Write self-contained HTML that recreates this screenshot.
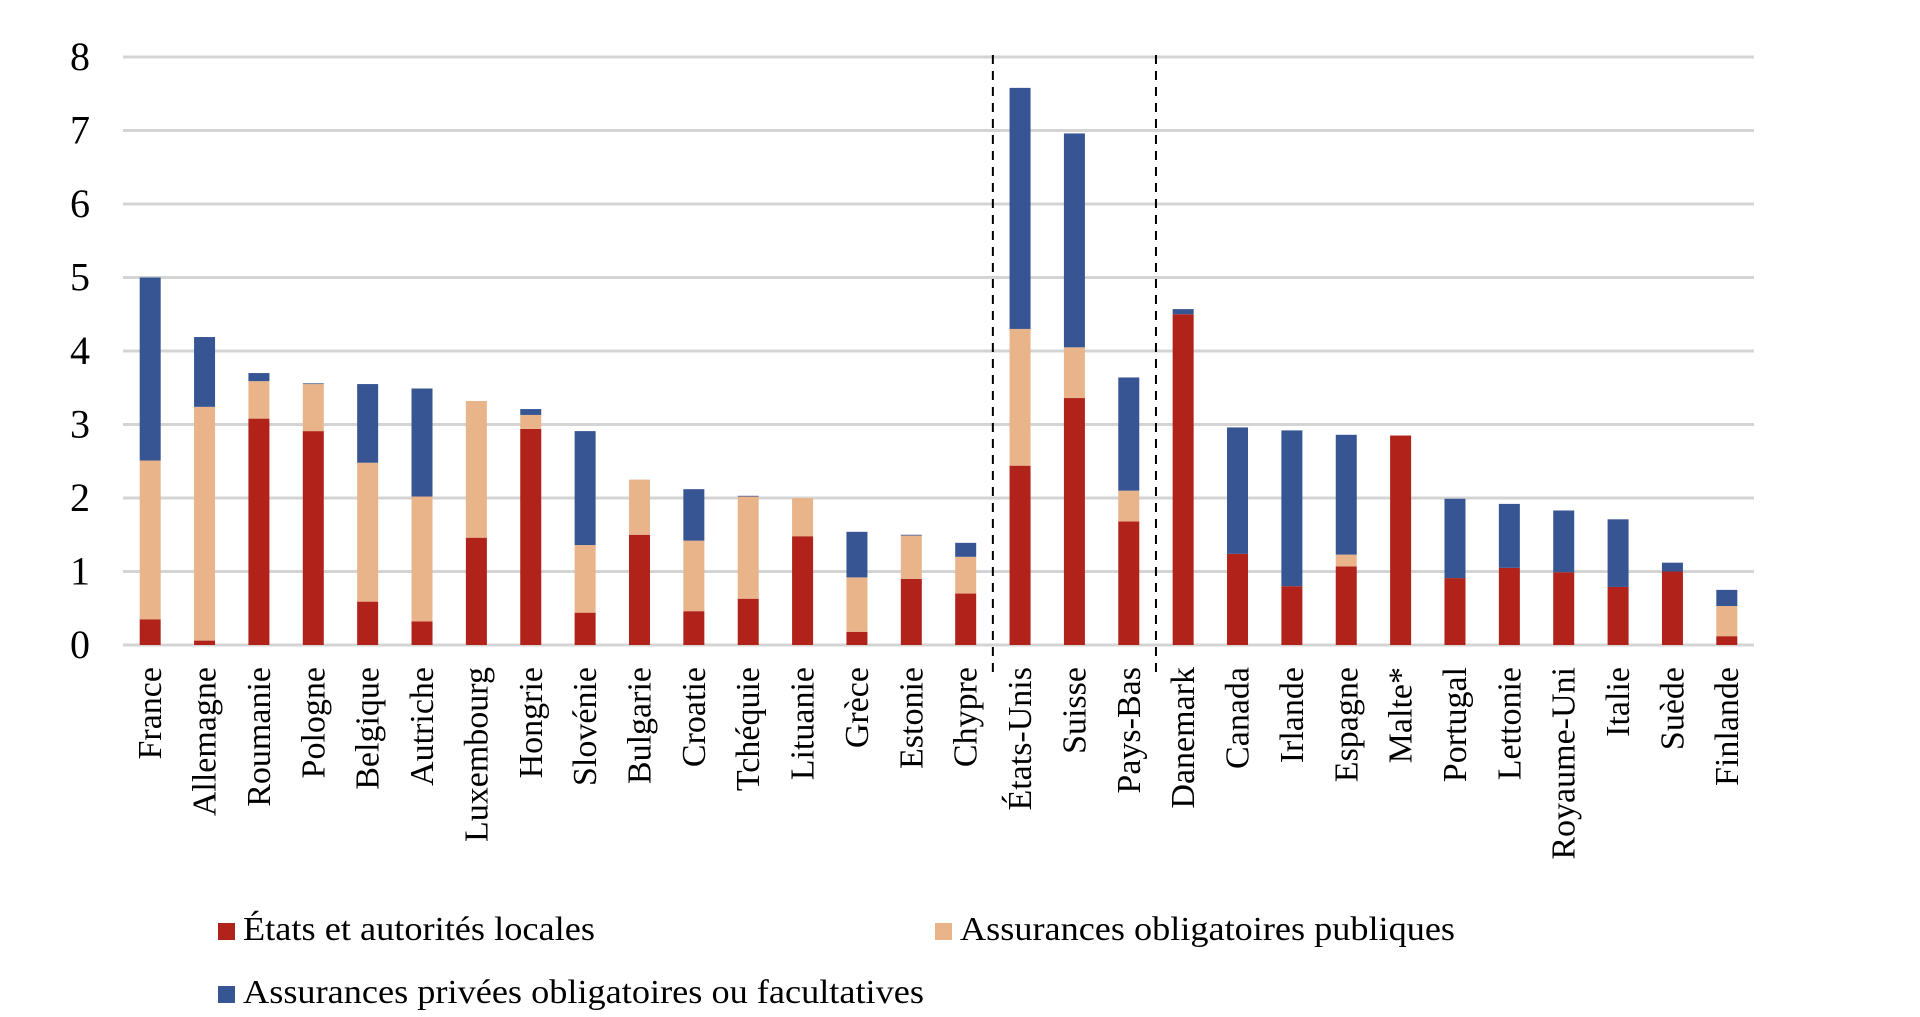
<!DOCTYPE html>
<html><head><meta charset="utf-8"><style>
html,body{margin:0;padding:0;background:#fff;}
svg{display:block;font-family:"Liberation Serif",serif;}
</style></head><body>
<svg id="chart" width="1920" height="1017" viewBox="0 0 1920 1017" xmlns="http://www.w3.org/2000/svg">
<g id="grid"></g>
<g id="yticks"></g>
<g id="bars"></g>
<g id="xlabels"></g>
<g id="dividers"></g>
<g>
  <g>
    <rect x="218" y="923" width="17" height="17" fill="#B0221A"/>
    <text x="243" y="940" font-size="34" textLength="352" lengthAdjust="spacingAndGlyphs">États et autorités locales</text>
  </g>
  <g>
    <rect x="935" y="923" width="17" height="17" fill="#E9B48A"/>
    <text x="960" y="940" font-size="34" textLength="495" lengthAdjust="spacingAndGlyphs">Assurances obligatoires publiques</text>
  </g>
  <g>
    <rect x="218" y="986" width="17" height="17" fill="#385593"/>
    <text x="243" y="1003" font-size="34" textLength="681" lengthAdjust="spacingAndGlyphs">Assurances privées obligatoires ou facultatives</text>
  </g>
</g>
</svg>
<script>
const categories = ["France","Allemagne","Roumanie","Pologne","Belgique","Autriche","Luxembourg","Hongrie","Slovénie","Bulgarie","Croatie","Tchéquie","Lituanie","Grèce","Estonie","Chypre","États-Unis","Suisse","Pays-Bas","Danemark","Canada","Irlande","Espagne","Malte*","Portugal","Lettonie","Royaume-Uni","Italie","Suède","Finlande"];
const etats = [0.35,0.06,3.08,2.91,0.59,0.32,1.46,2.94,0.44,1.50,0.46,0.63,1.48,0.18,0.90,0.70,2.44,3.36,1.68,4.50,1.24,0.80,1.07,2.85,0.91,1.05,0.99,0.79,1.00,0.12];
const publiques = [2.16,3.18,0.51,0.64,1.89,1.70,1.86,0.19,0.92,0.75,0.96,1.39,0.52,0.74,0.59,0.50,1.86,0.69,0.42,0,0,0,0.16,0,0,0,0,0,0,0.41];
const privees = [2.49,0.95,0.11,0.01,1.07,1.47,0,0.08,1.55,0,0.70,0.01,0,0.62,0.01,0.19,3.28,2.91,1.54,0.07,1.72,2.12,1.63,0,1.08,0.87,0.84,0.92,0.12,0.22];
const yTicks = [0,1,2,3,4,5,6,7,8];
const dividerAfter = [15,18];

const NS = "http://www.w3.org/2000/svg";
const X0 = 123, X1 = 1754, Y0 = 645, Y8 = 57, YMAX = 8;
const band = (X1 - X0) / categories.length;
const barW = 21;
function yScale(v){ return Y0 - (Y0 - Y8) * v / YMAX; }
function xCenter(i){ return X0 + band * (i + 0.5); }
function mk(tag, attrs, parent){ const e = document.createElementNS(NS, tag); for (const k in attrs) e.setAttribute(k, attrs[k]); parent.appendChild(e); return e; }

const grid = document.getElementById('grid');
const yt = document.getElementById('yticks');
yTicks.forEach(t => {
  const l = mk('line', {x1:X0, x2:X1, y1:yScale(t), y2:yScale(t), stroke:'#d4d4d4', 'stroke-width':3}, grid);
  
  
  const tx = mk('text', {x:90, y:yScale(t) + 13, 'font-size':40, 'text-anchor':'end'}, yt);
  tx.textContent = t;
  
  
});

const bars = document.getElementById('bars');
const xl = document.getElementById('xlabels');
const series = [[etats,'#B0221A','etats'],[publiques,'#E9B48A','publiques'],[privees,'#385593','privees']];
categories.forEach((c, i) => {
  let base = 0;
  const cx = xCenter(i);
  series.forEach(([arr, col, nm]) => {
    const v = arr[i];
    if (v > 0) {
      const r = mk('rect', {x:cx - barW/2, y:yScale(base + v), width:barW, height:yScale(base) - yScale(base + v), fill:col}, bars);
      
      
    }
    base += v;
  });
  const t = mk('text', {transform:'translate(' + (cx + 11) + ',667) rotate(-90)', 'font-size':34, 'text-anchor':'end'}, xl);
  t.textContent = c;
  
  
});

const dv = document.getElementById('dividers');
dividerAfter.forEach(i => {
  const x = X0 + band * (i + 1);
  const l = mk('line', {x1:x, x2:x, y1:55, y2:674, stroke:'#000', 'stroke-width':2, 'stroke-dasharray':'9,7'}, dv);
  
  
});
</script>
</body></html>
